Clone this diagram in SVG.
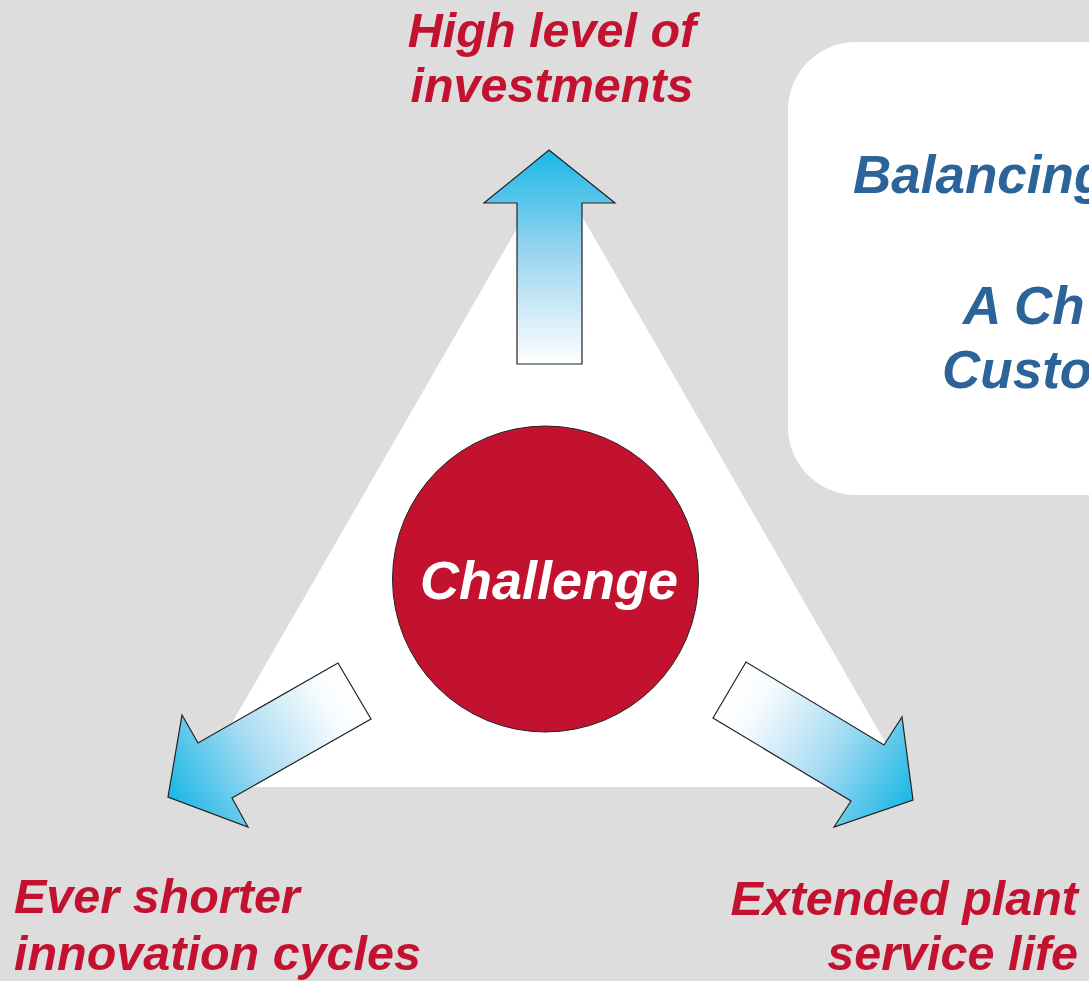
<svg xmlns="http://www.w3.org/2000/svg" width="1089" height="981" viewBox="0 0 1089 981">
  <defs>
    <linearGradient id="gUp" gradientUnits="userSpaceOnUse" x1="549" y1="150" x2="549" y2="364">
      <stop offset="0" stop-color="#1bb7e6"/>
      <stop offset="0.5" stop-color="#9fd6f0"/>
      <stop offset="1" stop-color="#ffffff"/>
    </linearGradient>
    <linearGradient id="gLeft" gradientUnits="userSpaceOnUse" x1="354" y1="691" x2="170" y2="797">
      <stop offset="0" stop-color="#ffffff"/>
      <stop offset="0.15" stop-color="#f7fbfe"/>
      <stop offset="0.55" stop-color="#a8dcf3"/>
      <stop offset="1" stop-color="#1bb7e6"/>
    </linearGradient>
    <linearGradient id="gRight" gradientUnits="userSpaceOnUse" x1="730" y1="690" x2="912" y2="800">
      <stop offset="0" stop-color="#ffffff"/>
      <stop offset="0.15" stop-color="#f7fbfe"/>
      <stop offset="0.55" stop-color="#a8dcf3"/>
      <stop offset="1" stop-color="#1bb7e6"/>
    </linearGradient>
  </defs>
  <style>
    .lbl { font-family: "Liberation Sans", Arial, sans-serif; font-weight: bold; font-style: italic; }
    .red { fill: #c3122f; font-size: 48.5px; }
    .blue { fill: #2c6399; font-size: 53px; }
    .arrow { stroke: #222; stroke-width: 1.2; stroke-linejoin: miter; }
  </style>
  <rect x="0" y="0" width="1089" height="981" fill="#dddddd"/>

  <g id="triangle">
    <polygon points="553,166 911,787 195,787" fill="#ffffff"/>
  </g>

  <g id="infoBox">
    <rect x="788" y="42" width="400" height="453" rx="68" ry="68" fill="#ffffff"/>
    <text class="lbl blue" x="853" y="193">Balancing</text>
    <text class="lbl blue" x="963" y="324">A Ch</text>
    <text class="lbl blue" x="942" y="388">Custo</text>
  </g>

  <g id="connectors">
    <polygon class="arrow" fill="url(#gUp)" points="549,150 615,203 582,203 582,364 517,364 517,203 484,203"/>
    <polygon class="arrow" fill="url(#gLeft)" points="338,663 371,719 232,798 248,827 168,797 182,715 198,743"/>
    <polygon class="arrow" fill="url(#gRight)" points="746,662 713,718 851,801 834,827 913,800 902,717 884,745"/>
  </g>

  <g id="challenge">
    <circle cx="545.5" cy="579" r="153" fill="#c3122f" stroke="#222" stroke-width="1"/>
    <text class="lbl" x="549" y="599" font-size="54" fill="#ffffff" text-anchor="middle">Challenge</text>
  </g>

  <g id="topLabel">
    <text class="lbl red" x="552" y="47" text-anchor="middle">High level of</text>
    <text class="lbl red" x="552" y="102" text-anchor="middle">investments</text>
  </g>

  <g id="leftLabel">
    <text class="lbl red" x="14" y="913">Ever shorter</text>
    <text class="lbl red" x="14" y="970">innovation cycles</text>
  </g>

  <g id="rightLabel">
    <text class="lbl red" x="1078" y="915" text-anchor="end">Extended plant</text>
    <text class="lbl red" x="1078" y="970" text-anchor="end">service life</text>
  </g>
</svg>
